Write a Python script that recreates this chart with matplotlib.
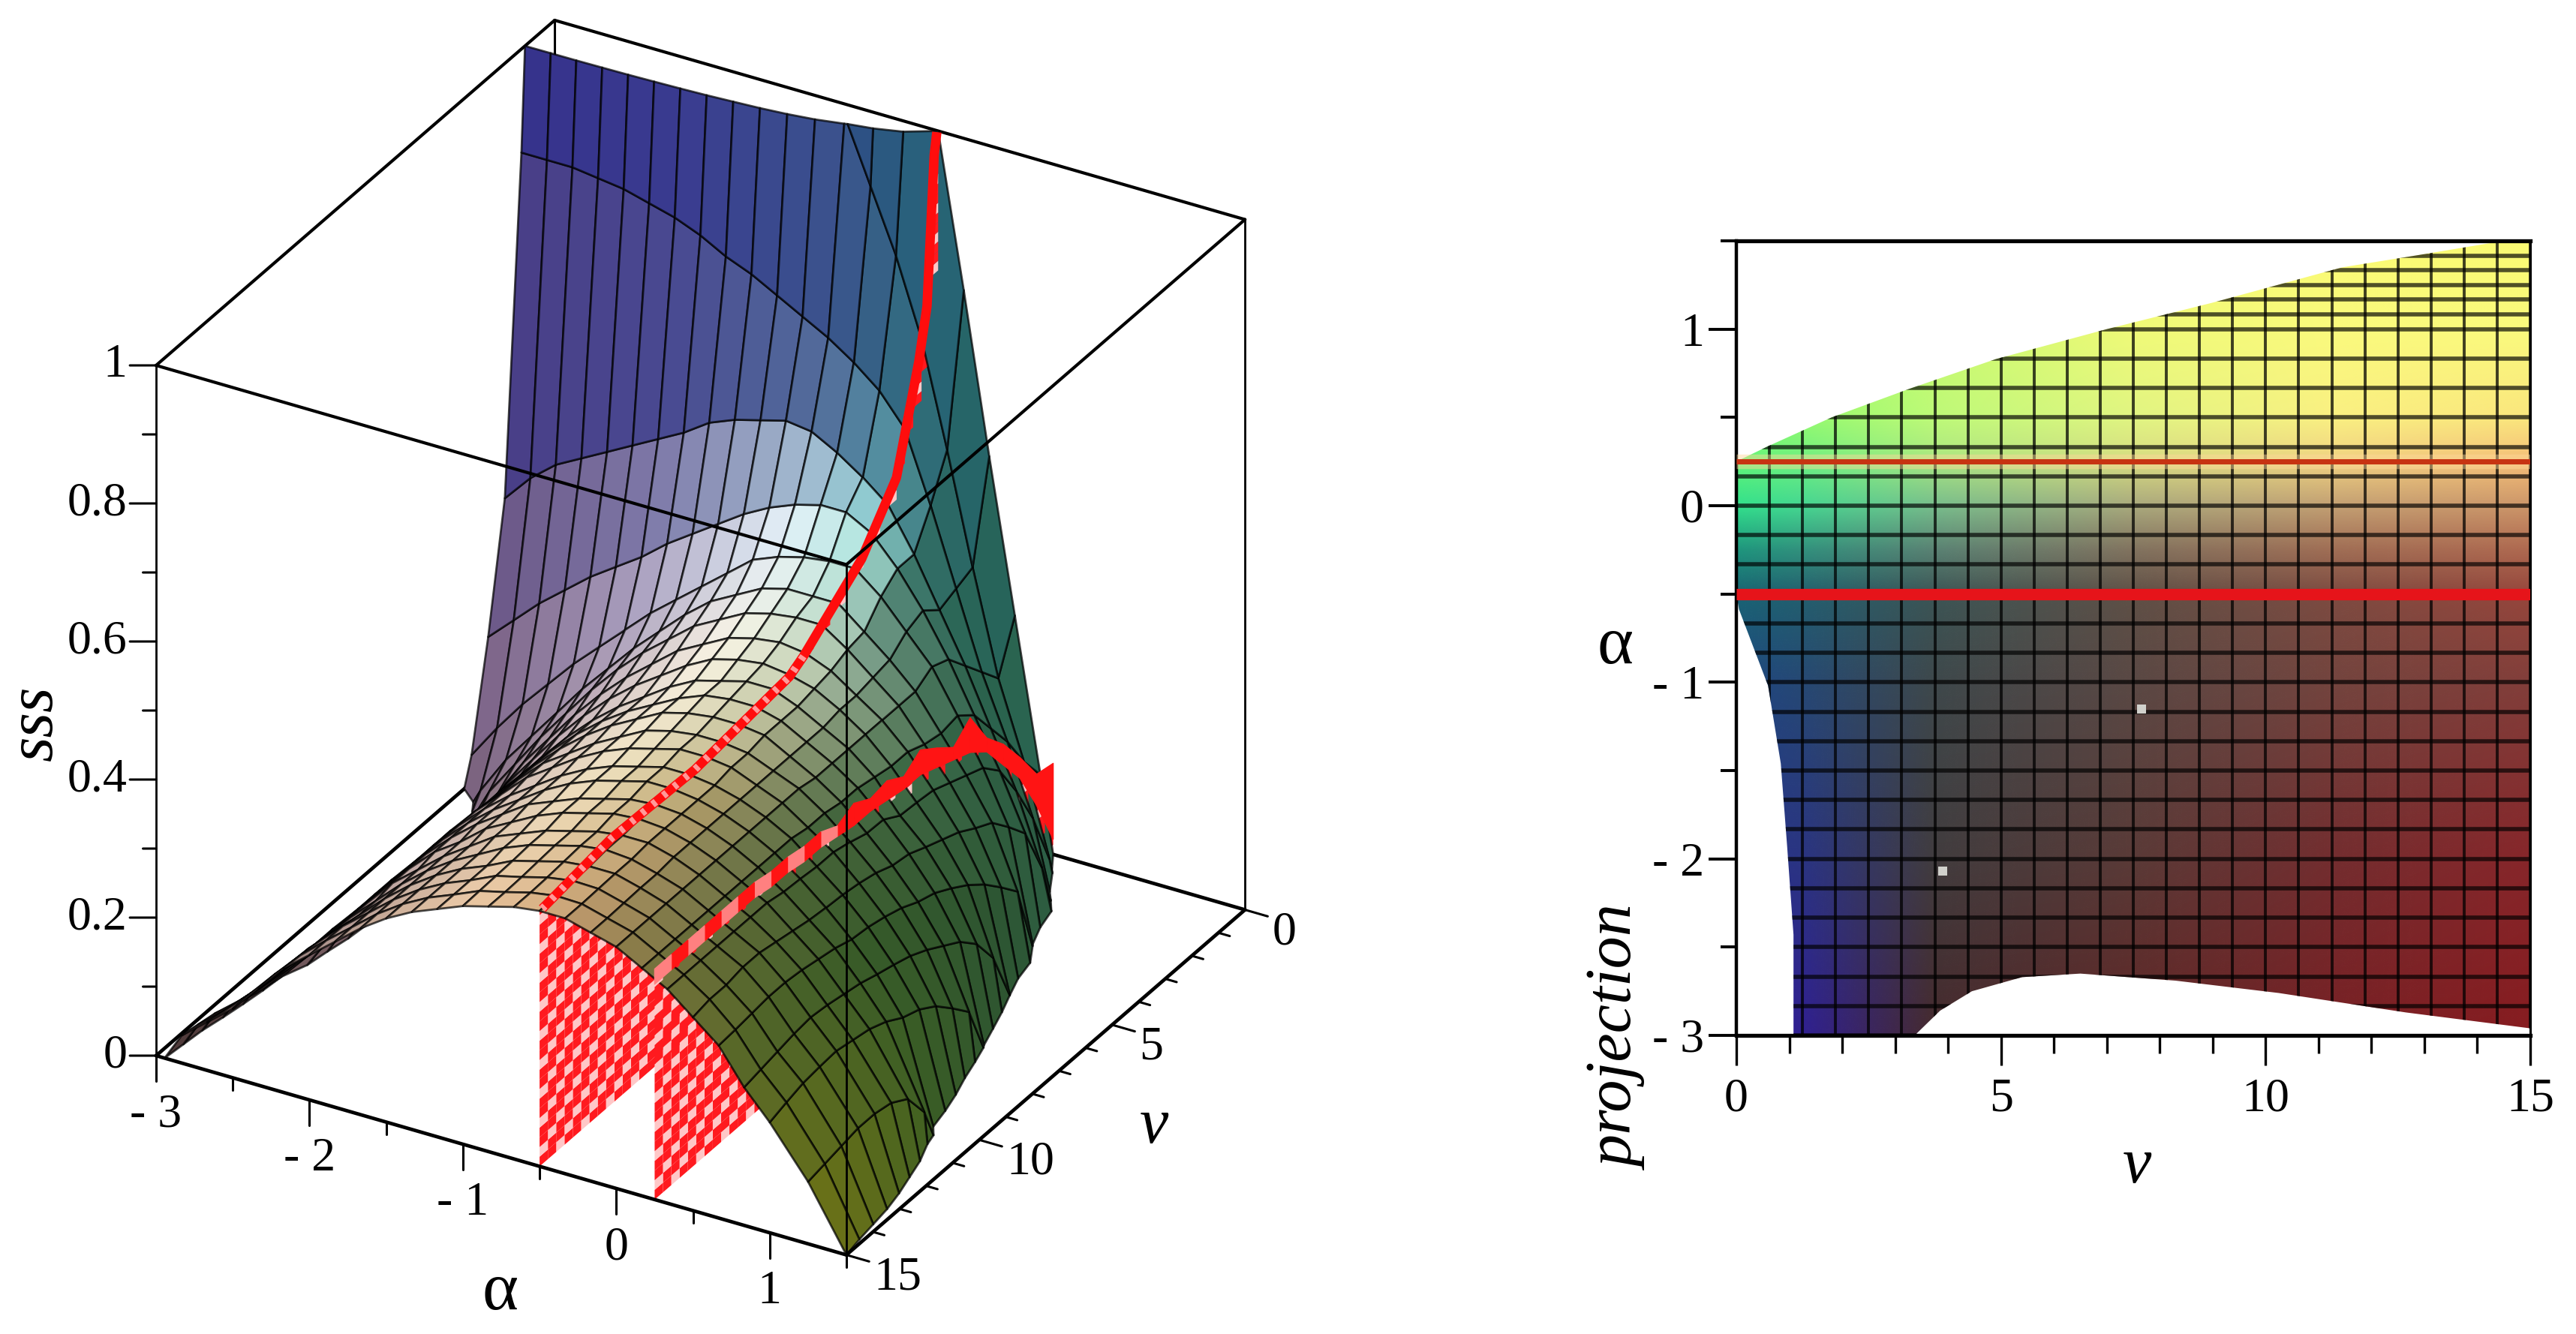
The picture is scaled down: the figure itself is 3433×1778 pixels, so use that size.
import numpy as np
import matplotlib
matplotlib.use("Agg")
import matplotlib.pyplot as plt
from matplotlib.image import NonUniformImage
from matplotlib.patches import Polygon
from mpl_toolkits.mplot3d.art3d import Poly3DCollection
from mpl_toolkits.mplot3d import proj3d

plt.rcParams['font.family'] = ['Liberation Serif', 'DejaVu Serif']

# ---------- data ----------
alpha_nodes = [-3, -2.833, -2.667, -2.5, -2.333, -2.167, -2, -1.833, -1.667, -1.5, -1.333, -1.167, -1,
               -.833, -.667, -.5, -.333, -.167, 0, .167, .333, .5, .667, .833, 1, 1.25, 1.5]
v_nodes = [0, .625, 1.25, 1.875, 2.5, 3.125, 3.75, 4.375, 5, 5.625, 6.25, 6.875, 7.5, 8.125, 8.75, 9.375,
           10, 10.625, 11.25, 11.875, 12.5, 13.125, 13.75, 14.375, 15]
# sss at (v row, alpha column); values outside 0..1 lie outside the drawn box
sss_rows = [
 [4.32,4.1,3.88,3.66,3.44,3.21,2.99,2.77,2.55,2.33,2.11,1.88,1.66,1.44,1.22,1.0,.78,.55,.33,.11,-.11,-.33,-.53,-.75,-.95,-1.15,-1.5],
 [1.55,1.52,1.5,1.47,1.44,1.4,1.36,1.32,1.27,1.22,1.16,1.09,1.01,.92,.83,.72,.57,.41,.26,.15,.02,-.15,-.3,-.45,-.6,-.8,-1],
 [.85,.85,.85,.845,.84,.83,.82,.805,.785,.77,.75,.73,.71,.685,.655,.61,.51,.40,.29,.20,.10,-.05,-.18,-.3,-.42,-.6,-.8],
 [.37,.41,.44,.46,.48,.50,.52,.54,.565,.58,.59,.60,.595,.575,.55,.52,.46,.39,.32,.24,.16,.06,-.1,-.2,-.3,-.5,-.7],
 [.19,.225,.26,.29,.32,.345,.37,.40,.425,.45,.475,.495,.51,.52,.52,.50,.46,.41,.35,.28,.21,.13,-.09,-.15,-.25,-.45,-.65],
 [.04,.09,.135,.175,.215,.25,.285,.32,.35,.38,.41,.44,.455,.465,.47,.47,.44,.40,.36,.30,.235,.16,-.01,-.1,-.2,-.4,-.6],
 [-.05,.02,.075,.12,.165,.21,.25,.29,.325,.36,.39,.41,.43,.44,.44,.44,.41,.38,.345,.295,.245,.187,.098,-.1,-.16,-.35,-.5],
 [-.08,-.02,.05,.10,.15,.195,.24,.28,.315,.345,.375,.395,.415,.425,.43,.43,.405,.375,.345,.30,.255,.20,.125,-.06,-.12,-.3,-.45],
 [-.1,-.05,.02,.08,.135,.18,.225,.265,.30,.33,.36,.38,.40,.41,.415,.41,.395,.37,.345,.31,.265,.215,.15,0,-.09,-.26,-.4],
 [-.12,-.06,0,.07,.125,.17,.215,.255,.29,.32,.345,.37,.39,.40,.405,.40,.39,.37,.345,.31,.268,.225,.17,.075,-.145,-.23,-.38],
 [-.14,-.07,-.005,.06,.115,.16,.205,.245,.28,.31,.335,.36,.38,.39,.40,.40,.385,.365,.345,.315,.27,.235,.186,.116,-.065,-.2,-.35],
 [-.14,-.07,-.005,.06,.115,.165,.205,.245,.28,.31,.335,.355,.375,.39,.395,.395,.385,.365,.345,.32,.285,.246,.20,.14,-.01,-.17,-.32],
 [-.13,-.06,0,.06,.12,.165,.205,.245,.28,.31,.335,.355,.375,.385,.39,.39,.385,.365,.345,.32,.286,.25,.208,.155,.07,-.37,-.45],
 [-.12,-.05,.01,.065,.12,.165,.205,.245,.28,.305,.33,.35,.37,.38,.385,.385,.38,.365,.35,.325,.294,.26,.22,.17,.096,-.2,-.35],
 [-.11,-.045,.015,.07,.125,.17,.21,.245,.28,.305,.33,.35,.365,.375,.385,.385,.38,.365,.35,.325,.30,.266,.228,.182,.12,-.11,-.25],
 [-.105,-.04,.02,.075,.125,.17,.21,.245,.275,.30,.325,.345,.36,.37,.38,.38,.375,.365,.35,.33,.30,.27,.234,.19,.136,-.064,-.2],
 [-.1,-.03,.03,.08,.13,.17,.21,.245,.275,.30,.325,.345,.36,.37,.38,.38,.375,.365,.35,.33,.303,.272,.237,.197,.145,-.036,-.15],
 [-.09,-.02,.035,.085,.13,.17,.21,.245,.275,.30,.325,.34,.355,.365,.375,.378,.375,.365,.35,.33,.305,.275,.245,.205,.16,.045,-.5],
 [-.07,0,.04,.09,.13,.17,.21,.245,.27,.30,.32,.34,.355,.365,.375,.378,.375,.365,.35,.33,.31,.28,.25,.21,.17,.085,-.18],
 [-.06,.005,.045,.09,.13,.17,.21,.24,.27,.295,.32,.335,.35,.36,.37,.375,.375,.365,.35,.33,.31,.285,.255,.215,.175,.10,-.108],
 [-.05,.012,.05,.09,.13,.17,.205,.24,.27,.295,.315,.335,.35,.36,.37,.375,.372,.362,.35,.33,.31,.29,.258,.218,.18,.105,-.059],
 [-.04,.02,.055,.095,.135,.17,.205,.24,.27,.295,.315,.33,.348,.358,.368,.372,.372,.362,.35,.33,.31,.29,.258,.215,.178,.105,-.033],
 [-.03,.03,.06,.095,.135,.175,.21,.24,.27,.295,.315,.33,.347,.356,.366,.372,.371,.361,.35,.33,.31,.285,.255,.21,.175,.10,-.02],
 [-.025,.035,.065,.10,.14,.178,.21,.24,.27,.295,.315,.33,.346,.355,.365,.371,.37,.36,.35,.33,.31,.285,.252,.205,.168,.095,-.01],
 [-.02,.04,.07,.10,.14,.18,.21,.24,.27,.295,.315,.33,.345,.355,.365,.37,.37,.36,.35,.33,.31,.28,.25,.20,.16,.09,0],
]
# red curves lying on the surface
red_alpha_a = -0.5
red_alpha_b = 0.25
red_a_v = [.05, .15, .42, .73, 1.57, 2.88, 5.07, 5.6, 9.15, 12.3, 14.9]
red_a_sss = [1.0, .97, .76, .69, .55, .476, .408, .396, .38, .385, .37]
red_b_sss = [.03,.10,.16,.20,.24,.26,.27,.28,.29,.29,.295,.30,.30,.305,.31,.31,.315,.315,.32,.32,.32,.32,.32,.32,.32]
red_b_width = [.11,.045,.03,.03,.02,.05,.018,.028,.036,.018,.028,.018,.032,.015,.022,.022,.022,.022,.022,.022,.022,.022,.022,.022,.022]

# axes
alpha_major = [-3, -2, -1, 0, 1]
alpha_labels = ['- 3', '- 2', '- 1', '0', '1']
alpha_minor = [-2.5, -1.5, -.5, .5, 1.5]
v_major = [0, 5, 10, 15]
v_minor = [1, 2, 3, 4, 6, 7, 8, 9, 11, 12, 13, 14]
sss_major = [0, .2, .4, .6, .8, 1]
sss_labels = ['0', '0.2', '0.4', '0.6', '0.8', '1']
sss_minor = [.1, .3, .5, .7, .9]

# projection: domain outline
edge_v = [0, .6, 1.8, 3.25, 4.9, 7, 9, 11.45, 12.9, 14.3, 15, 15, 12.65, 10.25, 8.3, 6.5, 5.4, 4.45, 3.85, 3.37,
          1.08, 1.08, .96, .84, .6, .05, 0]
edge_alpha = [.25, .337, .5, .66, .83, 1, 1.15, 1.35, 1.42, 1.49, 1.5, -2.96, -2.87, -2.76, -2.69, -2.65, -2.67,
              -2.75, -2.86, -3, -3, -2.43, -1.93, -1.46, -1.02, -.587, -.5]
speck_v = [7.65, 3.9]
speck_alpha = [-1.15, -2.07]

# ---------- colours ----------
proj_col_v = [0, 1.25, 3.75, 7.5, 11.25, 15]
proj_col_alpha = [-3, -2, -1, -.5, -.25, 0, .25, .5, 1, 1.5]
proj_colors = np.array([
 [(50,30,150),(48,32,145),(70,42,45),(95,38,38),(120,32,36),(135,28,32)],
 [(40,50,140),(42,52,130),(65,60,62),(90,58,55),(115,45,47),(135,38,42)],
 [(30,70,130),(38,72,115),(62,72,75),(90,72,68),(115,68,62),(130,62,58)],
 [(25,100,115),(35,95,110),(60,85,85),(95,80,70),(125,75,65),(150,70,60)],
 [(30,150,125),(50,145,125),(90,130,115),(130,115,95),(160,110,85),(175,105,80)],
 [(50,225,140),(70,215,145),(120,190,140),(170,170,125),(195,160,115),(205,150,105)],
 [(100,245,120),(110,240,130),(170,230,130),(215,220,130),(240,210,130),(245,190,120)],
 [(130,250,110),(150,250,110),(190,250,120),(225,245,130),(250,240,130),(250,230,125)],
 [(150,250,110),(170,250,110),(200,250,110),(240,250,120),(250,250,125),(250,250,125)],
 [(190,250,110),(200,250,110),(225,250,110),(240,250,115),(250,250,115),(250,250,115)],
], dtype=np.uint8)

surf_col_v = [0, 1.25, 1.875, 2.5, 5, 10, 15]
surf_col_alpha = [-3, -2, -1, -.5, -.25, 0, .25, .75, 1.5]
surf_colors = np.array([
 [(50,50,140),(50,55,140),(40,75,130),(35,95,120),(35,100,105),(40,100,85),(45,100,75),(45,100,75),(45,100,75)],
 [(55,50,140),(60,60,145),(65,85,145),(55,115,130),(45,105,100),(40,100,80),(45,95,70),(45,90,65),(45,90,65)],
 [(90,75,130),(85,85,145),(100,130,165),(110,180,190),(50,110,100),(45,100,80),(45,95,70),(45,90,62),(45,90,62)],
 [(125,100,140),(165,155,190),(225,240,250),(170,230,225),(70,125,110),(60,110,90),(45,95,70),(45,90,60),(45,90,60)],
 [(110,85,95),(190,170,180),(250,245,230),(200,215,190),(150,175,150),(110,140,110),(60,105,70),(45,85,50),(45,85,50)],
 [(90,65,70),(200,175,175),(240,225,190),(200,180,130),(165,150,100),(120,125,80),(75,100,55),(55,90,40),(60,95,35)],
 [(70,50,50),(170,145,140),(235,200,165),(215,175,130),(185,150,105),(150,130,80),(120,115,60),(90,105,40),(110,115,20)],
], dtype=float) / 255.0


def lookup(a, v):
    out = []
    for ch in range(3):
        row = [np.interp(a, surf_col_alpha, surf_colors[i, :, ch]) for i in range(len(surf_col_v))]
        out.append(float(np.interp(v, surf_col_v, row)))
    return tuple(out)


def clip_plane(pts, limit, keep_above):
    res = []
    for k in range(len(pts)):
        p, q = pts[k], pts[(k + 1) % len(pts)]
        pin = p[2] >= limit if keep_above else p[2] <= limit
        qin = q[2] >= limit if keep_above else q[2] <= limit
        if pin:
            res.append(p)
        if pin != qin:
            t = (limit - p[2]) / (q[2] - p[2])
            res.append(tuple(p[m] + t * (q[m] - p[m]) for m in range(3)))
    return res


def clip_z(pts, lo=0.0, hi=1.0):
    pts = clip_plane(pts, lo, True)
    if len(pts) >= 3:
        pts = clip_plane(pts, hi, False)
    return pts


W, H = 3433, 1778
fig = plt.figure(figsize=(W / 100, H / 100), dpi=100)
fig.patch.set_facecolor('white')

# ---------- left panel ----------
LOW_A, HIGH_A = alpha_major[0], alpha_minor[-1]
LOW_V, HIGH_V = v_major[0], v_major[-1]
LOW_Z, HIGH_Z = sss_major[0], sss_major[-1]

S = 1782
ax = fig.add_axes([0, 0, S / W, S / H], projection='3d', proj_type='ortho', computed_zorder=False)
ax.set_xlim(LOW_A, HIGH_A, view_margin=0)
ax.set_ylim(HIGH_V, LOW_V, view_margin=0)
ax.set_zlim(LOW_Z, HIGH_Z, view_margin=0)
ax.view_init(elev=30, azim=-60)
ax.set_axis_off()
ax.patch.set_alpha(0)


def px_of(a, v, z):
    x, y, _ = proj3d.proj_transform(a, v, z, ax.get_proj())
    return ax.transData.transform((x, y))


# scale and place the cube on the reference's corners
ax.set_box_aspect((1, 1, 1), zoom=1.0)
ax.apply_aspect()
side = np.linalg.norm(px_of(LOW_A, HIGH_V, HIGH_Z) - px_of(LOW_A, HIGH_V, LOW_Z))
ax.set_box_aspect((1, 1, 1), zoom=920.0 / side)
p0 = px_of(LOW_A, HIGH_V, LOW_Z)
target = np.array([208.0, H - 1407.0])
pos = ax.get_position()
ax.set_position([pos.x0 + (target[0] - p0[0]) / W, pos.y0 + (target[1] - p0[1]) / H, pos.width, pos.height])
ax.apply_aspect()

polys, faces, edges = [], [], []
GRID = (0, 0, 0, .72)
NONE = (0, 0, 0, 0)
Z = np.array(sss_rows, dtype=float)
for j in range(len(v_nodes) - 1):
    for i in range(len(alpha_nodes) - 1):
        quad = [(alpha_nodes[i], v_nodes[j], Z[j, i]), (alpha_nodes[i + 1], v_nodes[j], Z[j, i + 1]),
                (alpha_nodes[i + 1], v_nodes[j + 1], Z[j + 1, i + 1]), (alpha_nodes[i], v_nodes[j + 1], Z[j + 1, i])]
        pts = clip_z(quad)
        if len(pts) >= 3:
            polys.append(pts)
            faces.append(lookup((alpha_nodes[i] + alpha_nodes[i + 1]) / 2, (v_nodes[j] + v_nodes[j + 1]) / 2) + (1,))
            edges.append(GRID)

# striped red vertical planes
idx_a = alpha_nodes.index(red_alpha_a)
tops = {red_alpha_a: list(Z[:, idx_a]), red_alpha_b: red_b_sss}
STRIPE_A, STRIPE_B = (1, .1, .12, 1), (1, .78, .78, 1)
dz = 0.014
for alpha_plane, top in tops.items():
    for j in range(len(v_nodes) - 1):
        z1, z2 = min(top[j], 1), min(top[j + 1], 1)
        zm = (z1 + z2) / 2
        vm = (v_nodes[j] + v_nodes[j + 1]) / 2
        for half, (va, vb, za, zb) in enumerate(((v_nodes[j], vm, z1, zm), (vm, v_nodes[j + 1], zm, z2))):
            for k in range(75):
                lo, hi = k * dz, (k + 1) * dz
                if lo > max(za, zb):
                    break
                quad = [(alpha_plane, va, 0.0), (alpha_plane, vb, 0.0), (alpha_plane, vb, zb), (alpha_plane, va, za)]
                pts = clip_plane(clip_plane(quad, lo, True), hi, False)
                if len(pts) >= 3:
                    polys.append(pts)
                    faces.append(STRIPE_B if (2 * j + half + k) % 3 == 0 else STRIPE_A)
                    edges.append(NONE)

coll = Poly3DCollection(polys, facecolors=faces, edgecolors=edges, linewidths=2.0, zorder=2)
coll.set_zsort('average')
ax.add_collection3d(coll, autolim=False)

# red curve bands
band = []
band_cols = []
for j in range(len(v_nodes) - 1):
    z1, z2 = red_b_sss[j], red_b_sss[j + 1]
    w1, w2 = red_b_width[j], red_b_width[j + 1]
    band.append([(red_alpha_b, v_nodes[j], z1 - .008), (red_alpha_b, v_nodes[j + 1], z2 - .008),
                 (red_alpha_b, v_nodes[j + 1], z2 - .008 + w2), (red_alpha_b, v_nodes[j], z1 - .008 + w1)])
    band_cols.append((1, .08, .08, 1) if v_nodes[j] < 8 or j % 2 == 0 else (1, .5, .5, 1))
ax.add_collection3d(Poly3DCollection(band, facecolors=band_cols, edgecolors=band_cols, linewidths=1, zorder=3),
                    autolim=False)
ax.plot([red_alpha_a] * len(red_a_v), red_a_v, red_a_sss, color=(1, .05, .05), lw=9, zorder=3, solid_capstyle='butt')
long_v = [v for v in red_a_v if v >= 5]
long_z = [z for v, z in zip(red_a_v, red_a_sss) if v >= 5]
ax.plot([red_alpha_a] * len(long_v), long_v, long_z, color=(1, .6, .6), lw=7, zorder=3, dashes=(.6, 1.3))


def edge(p, q, lw, zo):
    ax.plot([p[0], q[0]], [p[1], q[1]], [p[2], q[2]], color='black', lw=lw, zorder=zo, solid_capstyle='round')


def label(a, v, z, s, **kw):
    x, y = px_of(a, v, z)
    fig.text(x / W, y / H, s, fontsize=FS, **kw)


# box: behind the surface
edge((LOW_A, HIGH_V, LOW_Z), (LOW_A, LOW_V, LOW_Z), 3.4, 1)
edge((LOW_A, LOW_V, LOW_Z), (HIGH_A, LOW_V, LOW_Z), 3.4, 1)
edge((LOW_A, LOW_V, LOW_Z), (LOW_A, LOW_V, HIGH_Z), 2.2, 1)
edge((LOW_A, HIGH_V, HIGH_Z), (LOW_A, LOW_V, HIGH_Z), 3.0, 1)
edge((LOW_A, LOW_V, HIGH_Z), (HIGH_A, LOW_V, HIGH_Z), 3.0, 1)
edge((HIGH_A, LOW_V, LOW_Z), (HIGH_A, LOW_V, HIGH_Z), 2.0, 1)
# box: in front
edge((LOW_A, HIGH_V, HIGH_Z), (HIGH_A, HIGH_V, HIGH_Z), 3.0, 5)
edge((HIGH_A, HIGH_V, HIGH_Z), (HIGH_A, LOW_V, HIGH_Z), 3.0, 5)
edge((LOW_A, HIGH_V, LOW_Z), (LOW_A, HIGH_V, HIGH_Z), 2.0, 5)
edge((HIGH_A, HIGH_V, LOW_Z), (HIGH_A, HIGH_V, HIGH_Z), 2.0, 5)
edge((LOW_A, HIGH_V, LOW_Z), (HIGH_A, HIGH_V, LOW_Z), 3.4, 5)
edge((HIGH_A, HIGH_V, LOW_Z), (HIGH_A, LOW_V, LOW_Z), 3.4, 5)

FS = 46
# sss ticks (flat to the left of the front-left edge)
for zt, lab in zip(sss_major, sss_labels):
    edge((LOW_A, HIGH_V, zt), (LOW_A - .128, HIGH_V + .247, zt), 2.2, 5)
    label(LOW_A - .14, HIGH_V + .27, zt, lab, ha='right', va='center')
for zt in sss_minor:
    edge((LOW_A, HIGH_V, zt), (LOW_A - .064, HIGH_V + .124, zt), 2.2, 5)
# alpha ticks
for at, lab in zip(alpha_major, alpha_labels):
    edge((at, HIGH_V, LOW_Z), (at, HIGH_V, LOW_Z - .037), 2.2, 5)
    label(at, HIGH_V, LOW_Z - .086, lab, ha='center', va='center')
for at in alpha_minor:
    edge((at, HIGH_V, LOW_Z), (at, HIGH_V, LOW_Z - .018), 2.2, 5)
# v ticks
for vt in v_major:
    edge((HIGH_A, vt, LOW_Z), (HIGH_A + .148, vt, LOW_Z), 2.2, 5)
    label(HIGH_A + .176, vt, LOW_Z - .022, str(vt), ha='left', va='center')
for vt in v_minor:
    edge((HIGH_A, vt, LOW_Z), (HIGH_A + .074, vt, LOW_Z), 2.2, 5)

fig.text(48 / W, 1 - 964 / H, 'sss', style='italic', rotation=90, ha='center', va='center', fontsize=62)
fig.text(667 / W, 1 - 1723 / H, 'α', ha='center', va='center', fontsize=66)
fig.text(1538 / W, 1 - 1502 / H, 'v', style='italic', ha='center', va='center', fontsize=62)

# ---------- right panel ----------
ax2 = fig.add_axes([2314 / W, 1 - 1380 / H, 1058 / W, 1059 / H])
ax2.set_xlim(0, 15)
ax2.set_ylim(-3, 1.5)
outline = Polygon(np.column_stack([edge_v, edge_alpha]), closed=True, transform=ax2.transData)
im = NonUniformImage(ax2, interpolation='bilinear', extent=(0, 15, -3, 1.5))
im.set_data(np.array(proj_col_v, float), np.array(proj_col_alpha, float), proj_colors)
ax2.add_image(im)
im.set_clip_path(outline)
ax2.set_xlim(0, 15)
ax2.set_ylim(-3, 1.5)

grid_v = np.array(v_nodes)
grid_alpha = [-3 + k / 6 for k in range(25)] + [1 + k / 12 for k in range(1, 7)]
hl = ax2.hlines(grid_alpha, 0, 15, colors='black', alpha=.68, lw=4, zorder=3)
vl = ax2.vlines(grid_v, -3, 1.5, colors='black', alpha=.75, lw=2.8, zorder=3)
hl.set_clip_path(outline)
vl.set_clip_path(outline)

ax2.plot([0, 15], [red_alpha_b] * 2, color=(1, .85, .6), lw=14, alpha=.45, zorder=4, solid_capstyle='butt')
ax2.plot([0, 15], [red_alpha_b] * 2, color=(.78, .2, .07), lw=5, zorder=4, solid_capstyle='butt')
ax2.plot([0, 15], [red_alpha_a] * 2, color=(.9, .08, .1), lw=11, zorder=4, solid_capstyle='butt')
ax2.plot(speck_v, speck_alpha, ls='none', marker='s', ms=8, color=(.82, .82, .8), mew=0, zorder=5)

ax2.set_xticks(v_major)
ax2.set_xticklabels([str(v) for v in v_major], fontsize=FS)
ax2.set_xticks(v_minor, minor=True)
ax2.set_yticks(alpha_major)
ax2.set_yticklabels(alpha_labels, fontsize=FS)
ax2.set_yticks(alpha_minor, minor=True)
ax2.tick_params(axis='x', which='major', direction='out', length=29, width=2.4, pad=12)
ax2.tick_params(axis='x', which='minor', direction='out', length=17, width=2.4)
ax2.tick_params(axis='y', which='major', direction='out', length=27, width=2.8, pad=4)
ax2.tick_params(axis='y', which='minor', direction='out', length=15, width=2.8)
for name, lw in (('top', 3.8), ('bottom', 3.8), ('left', 3.2), ('right', 2.2)):
    ax2.spines[name].set_linewidth(lw)

fig.text(2152 / W, 1 - 862 / H, 'α', ha='center', va='center', fontsize=66)
fig.text(2157 / W, 1 - 1385 / H, 'projection', style='italic', rotation=90, ha='center', va='center', fontsize=62)
fig.text(2848 / W, 1 - 1555 / H, 'v', style='italic', ha='center', va='center', fontsize=62)

fig.savefig('out.png', dpi=100)
